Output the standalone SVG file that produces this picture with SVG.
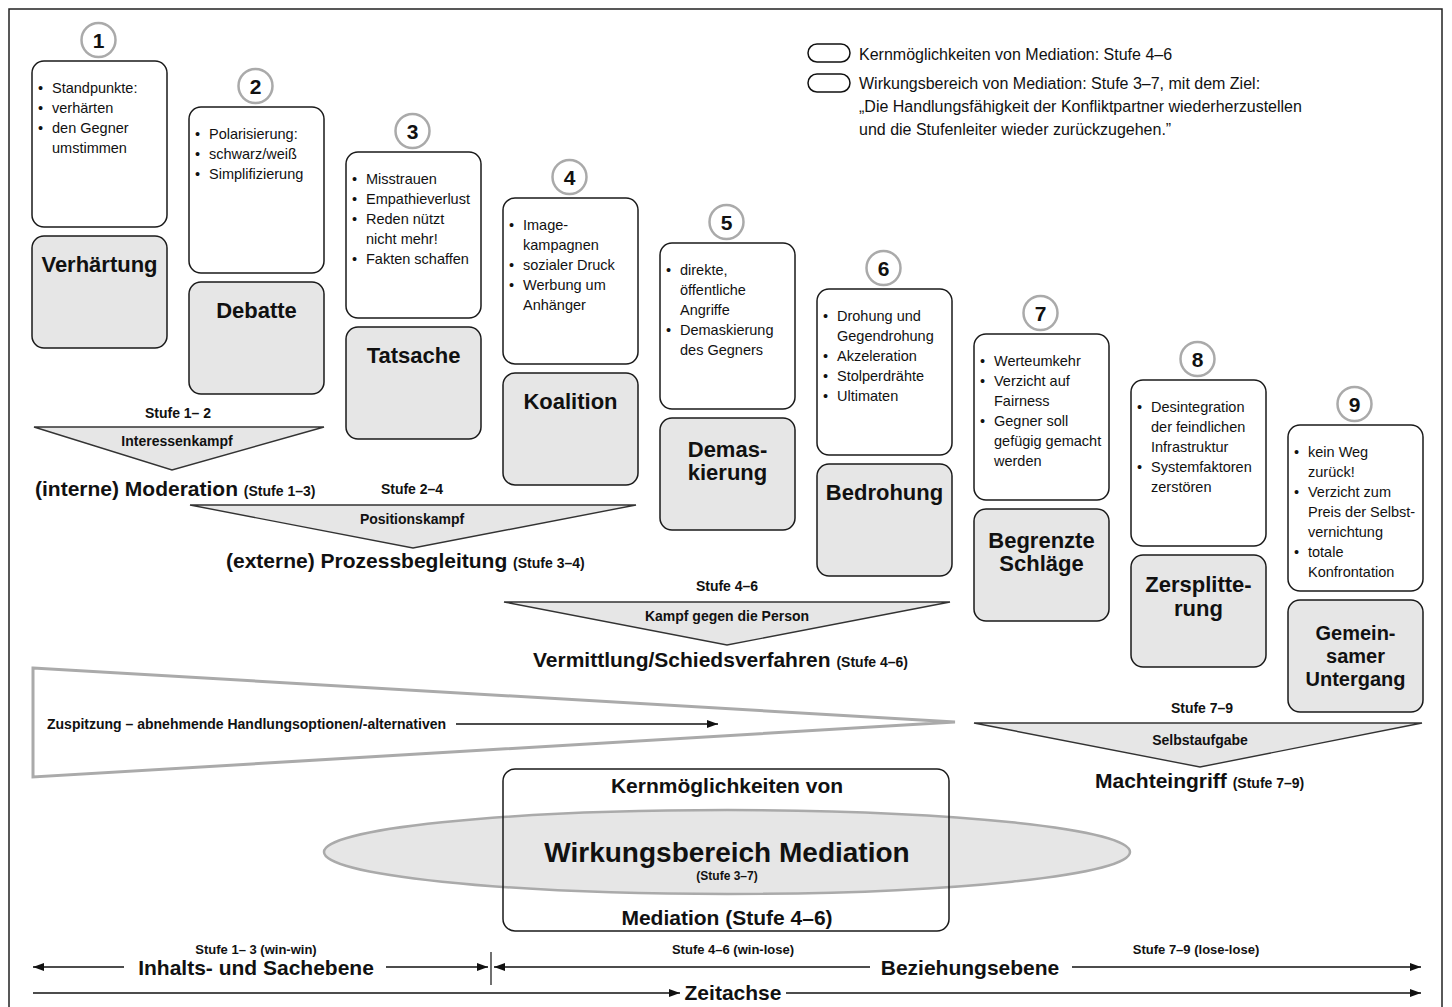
<svg xmlns="http://www.w3.org/2000/svg" width="1452" height="1007" viewBox="0 0 1452 1007">
<defs>
<marker id="ah" viewBox="0 0 11 8" refX="11" refY="4" markerWidth="11" markerHeight="8" markerUnits="userSpaceOnUse" orient="auto-start-reverse"><path d="M0,0 L11,4 L0,8 z" fill="#111"/></marker>
</defs>
<style>
text{font-family:"Liberation Sans",Arial,sans-serif;fill:#111}
.det{font-size:14.5px}
.name{font-size:22px;font-weight:bold;text-anchor:middle}
.num{font-size:21px;font-weight:bold;text-anchor:middle}
.circ{fill:#fff;stroke:#aaa;stroke-width:2.5}
.wbox{fill:#fff;stroke:#1a1a1a;stroke-width:1.5}
.gbox{fill:#e6e6e6;stroke:#1a1a1a;stroke-width:1.5}
.tri{fill:#e6e6e6;stroke:#333;stroke-width:1.4}
.lbl{font-size:14px;font-weight:bold;text-anchor:middle}
.big{font-size:21px;font-weight:bold}
.sm{font-size:14px}
.leg{font-size:16px}
.ax{stroke:#111;stroke-width:1.5;fill:none}
</style>
<rect x="9" y="9" width="1433" height="1000" fill="#fff" stroke="#222" stroke-width="1.5"/>

<g id="legend">
<rect x="808" y="44" width="42" height="18" rx="9" fill="#fff" stroke="#111" stroke-width="1.5"/>
<rect x="808" y="74" width="42" height="18" rx="9" fill="#fff" stroke="#111" stroke-width="1.5"/>
<text class="leg" x="859" y="60">Kernmöglichkeiten von Mediation: Stufe 4–6</text>
<text class="leg" x="859" y="89">Wirkungsbereich von Mediation: Stufe 3–7, mit dem Ziel:</text>
<text class="leg" x="859" y="112">„Die Handlungsfähigkeit der Konfliktpartner wiederherzustellen</text>
<text class="leg" x="859" y="135">und die Stufenleiter wieder zurückzugehen.”</text>
</g>

<g id="stage1">
<circle class="circ" cx="98.5" cy="40" r="17"/><text class="num" x="98.5" y="47.5">1</text>
<rect class="wbox" x="32" y="61" width="135" height="166" rx="12"/>
<text class="det" x="38" y="93">•</text><text class="det" x="52" y="93">Standpunkte:</text>
<text class="det" x="38" y="113">•</text><text class="det" x="52" y="113">verhärten</text>
<text class="det" x="38" y="133">•</text><text class="det" x="52" y="133">den Gegner</text>
<text class="det" x="52" y="153">umstimmen</text>
<rect class="gbox" x="32" y="236" width="135" height="112" rx="12"/>
<text class="name" x="99.5" y="272">Verhärtung</text>
</g>

<g id="stage2">
<circle class="circ" cx="255.5" cy="86" r="17"/><text class="num" x="255.5" y="93.5">2</text>
<rect class="wbox" x="189" y="107" width="135" height="166" rx="12"/>
<text class="det" x="195" y="139">•</text><text class="det" x="209" y="139">Polarisierung:</text>
<text class="det" x="195" y="159">•</text><text class="det" x="209" y="159">schwarz/weiß</text>
<text class="det" x="195" y="179">•</text><text class="det" x="209" y="179">Simplifizierung</text>
<rect class="gbox" x="189" y="282" width="135" height="112" rx="12"/>
<text class="name" x="256.5" y="318">Debatte</text>
</g>

<g id="stage3">
<circle class="circ" cx="412.5" cy="131" r="17"/><text class="num" x="412.5" y="138.5">3</text>
<rect class="wbox" x="346" y="152" width="135" height="166" rx="12"/>
<text class="det" x="352" y="184">•</text><text class="det" x="366" y="184">Misstrauen</text>
<text class="det" x="352" y="204">•</text><text class="det" x="366" y="204">Empathieverlust</text>
<text class="det" x="352" y="224">•</text><text class="det" x="366" y="224">Reden nützt</text>
<text class="det" x="366" y="244">nicht mehr!</text>
<text class="det" x="352" y="264">•</text><text class="det" x="366" y="264">Fakten schaffen</text>
<rect class="gbox" x="346" y="327" width="135" height="112" rx="12"/>
<text class="name" x="413.5" y="363">Tatsache</text>
</g>

<g id="stage4">
<circle class="circ" cx="569.5" cy="177" r="17"/><text class="num" x="569.5" y="184.5">4</text>
<rect class="wbox" x="503" y="198" width="135" height="166" rx="12"/>
<text class="det" x="509" y="230">•</text><text class="det" x="523" y="230">Image-</text>
<text class="det" x="523" y="250">kampagnen</text>
<text class="det" x="509" y="270">•</text><text class="det" x="523" y="270">sozialer Druck</text>
<text class="det" x="509" y="290">•</text><text class="det" x="523" y="290">Werbung um</text>
<text class="det" x="523" y="310">Anhänger</text>
<rect class="gbox" x="503" y="373" width="135" height="112" rx="12"/>
<text class="name" x="570.5" y="409">Koalition</text>
</g>

<g id="stage5">
<circle class="circ" cx="726.5" cy="222" r="17"/><text class="num" x="726.5" y="229.5">5</text>
<rect class="wbox" x="660" y="243" width="135" height="166" rx="12"/>
<text class="det" x="666" y="275">•</text><text class="det" x="680" y="275">direkte,</text>
<text class="det" x="680" y="295">öffentliche</text>
<text class="det" x="680" y="315">Angriffe</text>
<text class="det" x="666" y="335">•</text><text class="det" x="680" y="335">Demaskierung</text>
<text class="det" x="680" y="355">des Gegners</text>
<rect class="gbox" x="660" y="418" width="135" height="112" rx="12"/>
<text class="name" x="727.5" y="457">Demas-<tspan x="727.5" dy="23">kierung</tspan></text>
</g>

<g id="stage6">
<circle class="circ" cx="883.5" cy="268" r="17"/><text class="num" x="883.5" y="275.5">6</text>
<rect class="wbox" x="817" y="289" width="135" height="166" rx="12"/>
<text class="det" x="823" y="321">•</text><text class="det" x="837" y="321">Drohung und</text>
<text class="det" x="837" y="341">Gegendrohung</text>
<text class="det" x="823" y="361">•</text><text class="det" x="837" y="361">Akzeleration</text>
<text class="det" x="823" y="381">•</text><text class="det" x="837" y="381">Stolperdrähte</text>
<text class="det" x="823" y="401">•</text><text class="det" x="837" y="401">Ultimaten</text>
<rect class="gbox" x="817" y="464" width="135" height="112" rx="12"/>
<text class="name" x="884.5" y="500">Bedrohung</text>
</g>

<g id="stage7">
<circle class="circ" cx="1040.5" cy="313" r="17"/><text class="num" x="1040.5" y="320.5">7</text>
<rect class="wbox" x="974" y="334" width="135" height="166" rx="12"/>
<text class="det" x="980" y="366">•</text><text class="det" x="994" y="366">Werteumkehr</text>
<text class="det" x="980" y="386">•</text><text class="det" x="994" y="386">Verzicht auf</text>
<text class="det" x="994" y="406">Fairness</text>
<text class="det" x="980" y="426">•</text><text class="det" x="994" y="426">Gegner soll</text>
<text class="det" x="994" y="446">gefügig gemacht</text>
<text class="det" x="994" y="466">werden</text>
<rect class="gbox" x="974" y="509" width="135" height="112" rx="12"/>
<text class="name" x="1041.5" y="548">Begrenzte<tspan x="1041.5" dy="23">Schläge</tspan></text>
</g>

<g id="stage8">
<circle class="circ" cx="1197.5" cy="359" r="17"/><text class="num" x="1197.5" y="366.5">8</text>
<rect class="wbox" x="1131" y="380" width="135" height="166" rx="12"/>
<text class="det" x="1137" y="412">•</text><text class="det" x="1151" y="412">Desintegration</text>
<text class="det" x="1151" y="432">der feindlichen</text>
<text class="det" x="1151" y="452">Infrastruktur</text>
<text class="det" x="1137" y="472">•</text><text class="det" x="1151" y="472">Systemfaktoren</text>
<text class="det" x="1151" y="492">zerstören</text>
<rect class="gbox" x="1131" y="555" width="135" height="112" rx="12"/>
<text class="name" x="1198.5" y="592">Zersplitte-<tspan x="1198.5" dy="24">rung</tspan></text>
</g>

<g id="stage9">
<circle class="circ" cx="1354.5" cy="404" r="17"/><text class="num" x="1354.5" y="411.5">9</text>
<rect class="wbox" x="1288" y="425" width="135" height="166" rx="12"/>
<text class="det" x="1294" y="457">•</text><text class="det" x="1308" y="457">kein Weg</text>
<text class="det" x="1308" y="477">zurück!</text>
<text class="det" x="1294" y="497">•</text><text class="det" x="1308" y="497">Verzicht zum</text>
<text class="det" x="1308" y="517">Preis der Selbst-</text>
<text class="det" x="1308" y="537">vernichtung</text>
<text class="det" x="1294" y="557">•</text><text class="det" x="1308" y="557">totale</text>
<text class="det" x="1308" y="577">Konfrontation</text>
<rect class="gbox" x="1288" y="600" width="135" height="112" rx="12"/>
<text class="name" x="1355.5" y="640" style="font-size:20px">Gemein-<tspan x="1355.5" dy="23">samer</tspan><tspan x="1355.5" dy="23">Untergang</tspan></text>
</g>

<g id="phase1">
<text class="lbl" x="178" y="418">Stufe 1– 2</text>
<polygon class="tri" points="34,427 324,427 172,470"/>
<text class="lbl" x="177" y="446">Interessenkampf</text>
<text class="big" x="35" y="496">(interne) Moderation <tspan class="sm">(Stufe 1–3)</tspan></text>
</g>

<g id="phase2">
<text class="lbl" x="412" y="494">Stufe 2–4</text>
<polygon class="tri" points="190,505 636,505 413,548"/>
<text class="lbl" x="412" y="524">Positionskampf</text>
<text class="big" x="226" y="568">(externe) Prozessbegleitung <tspan class="sm">(Stufe 3–4)</tspan></text>
</g>

<g id="phase3">
<text class="lbl" x="727" y="591">Stufe 4–6</text>
<polygon class="tri" points="504,602 950,602 727,645"/>
<text class="lbl" x="727" y="621">Kampf gegen die Person</text>
<text class="big" x="533" y="667">Vermittlung/Schiedsverfahren <tspan class="sm">(Stufe 4–6)</tspan></text>
</g>

<g id="phase4">
<text class="lbl" x="1202" y="713">Stufe 7–9</text>
<polygon class="tri" points="974,723 1422,723 1200,767"/>
<text class="lbl" x="1200" y="745">Selbstaufgabe</text>
<text class="big" x="1095" y="788">Machteingriff <tspan class="sm">(Stufe 7–9)</tspan></text>
</g>

<g id="wedge">
<polygon points="33,668 955,722 33,777" fill="#fff" stroke="#aaa" stroke-width="3"/>
<text x="47" y="729" style="font-size:14px;font-weight:bold">Zuspitzung – abnehmende Handlungsoptionen/-alternativen</text>
</g>

<g id="mediation">
<ellipse cx="727" cy="852" rx="403" ry="42" fill="#e6e6e6" stroke="#aaa" stroke-width="2.5"/>
<rect x="503" y="769" width="446" height="162" rx="12" fill="none" stroke="#1a1a1a" stroke-width="1.5"/>
<text class="big" x="727" y="793" text-anchor="middle">Kernmöglichkeiten von</text>
<text x="727" y="862" text-anchor="middle" style="font-size:28px;font-weight:bold">Wirkungsbereich Mediation</text>
<text x="727" y="880" text-anchor="middle" style="font-size:12px;font-weight:bold">(Stufe 3–7)</text>
<text class="big" x="727" y="925" text-anchor="middle">Mediation (Stufe 4–6)</text>
</g>

<g id="axis-labels">
<text class="lbl" x="256" y="954" style="font-size:13px">Stufe 1– 3 (win-win)</text>
<text class="lbl" x="733" y="954" style="font-size:13px">Stufe 4–6 (win-lose)</text>
<text class="lbl" x="1196" y="954" style="font-size:13px">Stufe 7–9 (lose-lose)</text>
<text class="big" x="256" y="975" text-anchor="middle">Inhalts- und Sachebene</text>
<text class="big" x="970" y="975" text-anchor="middle">Beziehungsebene</text>
<text class="big" x="733" y="1000" text-anchor="middle">Zeitachse</text>
</g>

<g id="connectors">
<line class="ax" x1="456" y1="724" x2="718" y2="724" marker-end="url(#ah)"/>
<line class="ax" x1="124" y1="967" x2="33" y2="967" marker-end="url(#ah)"/>
<line class="ax" x1="386" y1="967" x2="488" y2="967" marker-end="url(#ah)"/>
<line x1="491" y1="952" x2="491" y2="985" stroke="#111" stroke-width="1.2"/>
<line class="ax" x1="870" y1="967" x2="494" y2="967" marker-end="url(#ah)"/>
<line class="ax" x1="1072" y1="967" x2="1421" y2="967" marker-end="url(#ah)"/>
<line class="ax" x1="33" y1="993" x2="680" y2="993" marker-end="url(#ah)"/>
<line class="ax" x1="786" y1="993" x2="1421" y2="993" marker-end="url(#ah)"/>
</g>
</svg>
